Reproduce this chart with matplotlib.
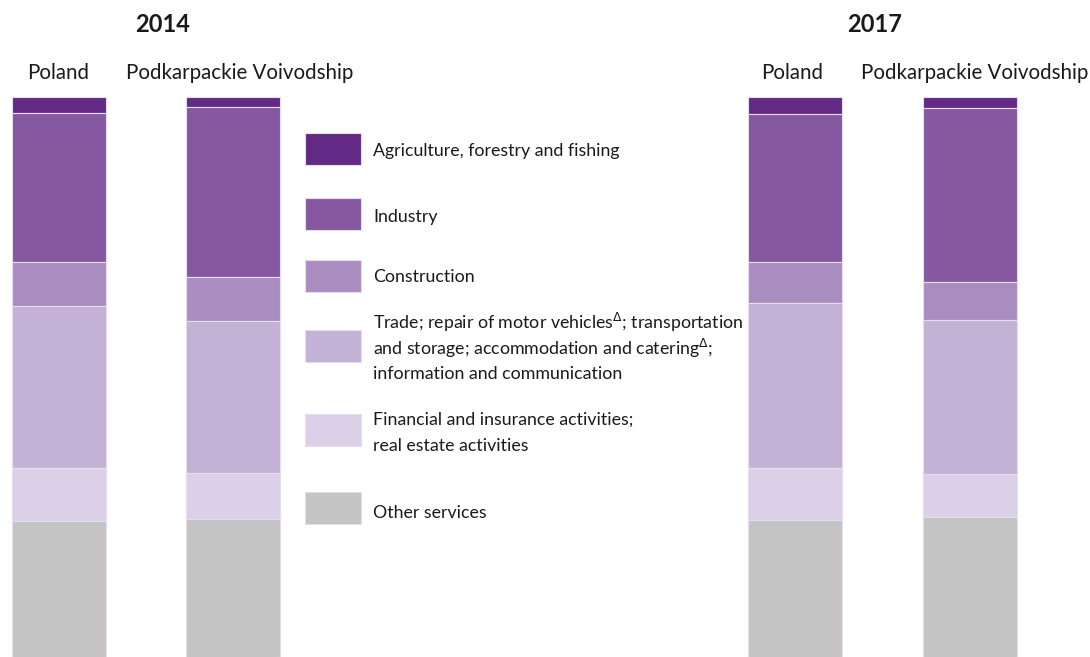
import matplotlib
matplotlib.use("Agg")
import matplotlib.pyplot as plt
from matplotlib.patches import Rectangle
import numpy as np

plt.rcParams['font.family'] = ['Lato', 'DejaVu Sans']

# Gross value added structure (%)
years = ['2014', '2017']
regions = ['Poland', 'Podkarpackie Voivodship']
sectors = ['Agriculture, forestry and fishing',
           'Industry',
           'Construction',
           'Trade; repair of motor vehicles$^{\\Delta}$; transportation\n'
           'and storage; accommodation and catering$^{\\Delta}$;\n'
           'information and communication',
           'Financial and insurance activities;\nreal estate activities',
           'Other services']

# one list per sector, order: PL 2014, Podk 2014, PL 2017, Podk 2017
agriculture = [2.9, 1.7, 3.1, 1.9]
industry = [26.6, 30.4, 26.4, 31.2]
construction = [7.8, 7.9, 7.3, 6.8]
trade = [28.9, 27.1, 29.5, 27.4]
financial = [9.6, 8.2, 9.2, 7.7]
other = [24.2, 24.7, 24.5, 25.0]

colors = ['#632a85', '#8558a0', '#a98dc0', '#c3b1d6', '#dbd0e8', '#c4c4c4']

fig = plt.figure(figsize=(10.9, 6.57), dpi=100)
W, H = 1090, 657

# bars: axis spans from bottom of figure up to the bar tops
ax = fig.add_axes([0, 0, 1, 560 / H])
ax.set_xlim(0, W)
ax.set_ylim(0, 100)
ax.axis('off')

xpos = np.array([59, 233, 794.5, 969.5])  # bar centres (layout)
width = 94

# stack from top down: agriculture on top, other services at bottom
stack = [agriculture, industry, construction, trade, financial, other]
top = np.full(4, 100.0)
for vals, c in zip(stack, colors):
    vals = np.array(vals)
    ax.bar(xpos, -vals, width, bottom=top, color=c,
           edgecolor='#e6ddef', linewidth=0.8)
    top = top - vals

# overlay in pixel coordinates for labels and legend
ov = fig.add_axes([0, 0, 1, 1])
ov.set_xlim(0, W)
ov.set_ylim(H, 0)
ov.axis('off')

ov.text(163, 25, years[0], ha='center', va='center', fontsize=17,
        fontweight='bold', color='#1a1a1a')
ov.text(875, 25, years[1], ha='center', va='center', fontsize=17,
        fontweight='bold', color='#1a1a1a')
label_x = [58, 240, 792, 975]
for i, x in enumerate(label_x):
    ov.text(x, 73, regions[i % 2], ha='center', va='center', fontsize=14.8,
            color='#1a1a1a')

# legend, drawn line by line
box_y = [149, 214, 276, 346, 430, 508]
text_y = [151, 217, 277, 348, 433, 513]
for lab, c, yb, yt in zip(sectors, colors, box_y, text_y):
    ov.add_patch(Rectangle((305, yb - 16), 56, 32, facecolor=c,
                           edgecolor='#e6ddef', linewidth=0.8))
    lines = lab.split('\n')
    y0 = yt - 26 * (len(lines) - 1) / 2
    for k, line in enumerate(lines):
        ov.text(373, y0 + 26 * k, line, ha='left', va='center',
                fontsize=12.8, color='#1a1a1a')

fig.savefig('out.png', dpi=100)
